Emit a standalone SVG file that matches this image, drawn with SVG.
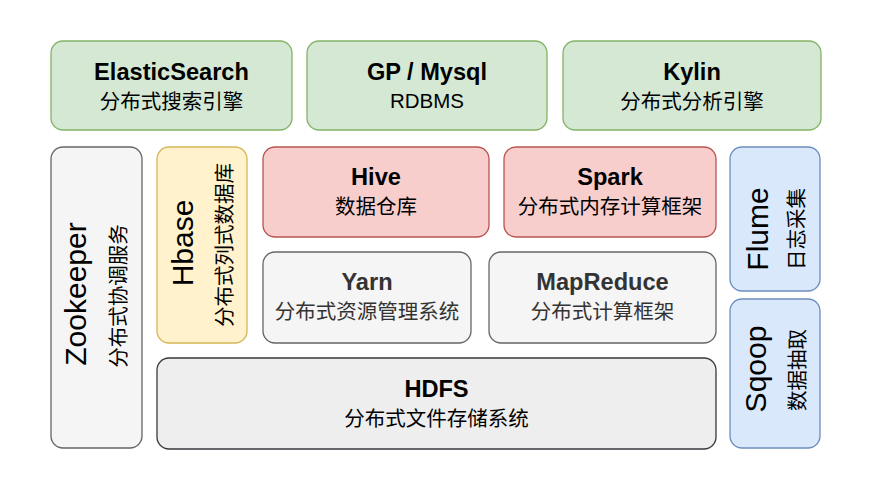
<svg xmlns="http://www.w3.org/2000/svg" width="876" height="484" viewBox="0 0 876 484">
<style>
text{font-family:"Liberation Sans","Noto Sans CJK SC",sans-serif;text-anchor:middle;fill:#000}
.t{font-size:23.6px;font-weight:bold}
.s{font-size:20.5px}
.v{font-size:30px}
.gray text{fill:#333333}
rect{stroke-width:1.3}
.green{fill:#d5e8d4;stroke:#82b366}
.red{fill:#f8cecc;stroke:#b85450}
.yel{fill:#fff2cc;stroke:#d6b656}
.blue{fill:#dae8fc;stroke:#6c8ebf}
.lg{fill:#f5f5f5;stroke:#666666}
.dg{fill:#eeeeee;stroke:#36393d}
</style>
<rect width="876" height="484" fill="#ffffff" stroke="none"/>
<g id="connectors"/>
<g id="elasticsearch">
<rect class="green" x="51" y="41" width="241" height="89" rx="12"/>
<text class="t" x="171.5" y="80">ElasticSearch</text>
<text class="s" x="171.5" y="109">分布式搜索引擎</text>
</g>
<g id="gp-mysql">
<rect class="green" x="307" y="41" width="240" height="89" rx="12"/>
<text class="t" x="427" y="80">GP / Mysql</text>
<text class="s" x="427" y="108">RDBMS</text>
</g>
<g id="kylin">
<rect class="green" x="563" y="41" width="258" height="89" rx="12"/>
<text class="t" x="692" y="80">Kylin</text>
<text class="s" x="692" y="109">分布式分析引擎</text>
</g>
<g id="zookeeper">
<rect class="lg" x="51" y="147" width="91" height="301" rx="12"/>
<text class="v" transform="translate(86,294) rotate(-90)">Zookeeper</text>
<text class="s" transform="translate(126,296) rotate(-90)">分布式协调服务</text>
</g>
<g id="hbase">
<rect class="yel" x="157" y="147" width="90" height="196" rx="12"/>
<text class="v" transform="translate(193,243) rotate(-90)">Hbase</text>
<text class="s" transform="translate(232,245) rotate(-90)">分布式列式数据库</text>
</g>
<g id="hive">
<rect class="red" x="263" y="147" width="226" height="90" rx="12"/>
<text class="t" x="376" y="185">Hive</text>
<text class="s" x="376" y="214">数据仓库</text>
</g>
<g id="spark">
<rect class="red" x="504" y="147" width="212" height="90" rx="12"/>
<text class="t" x="610" y="185">Spark</text>
<text class="s" x="610" y="214">分布式内存计算框架</text>
</g>
<g id="yarn" class="gray">
<rect class="lg" x="263" y="252" width="208" height="91" rx="12"/>
<text class="t" x="367" y="290">Yarn</text>
<text class="s" x="367" y="319">分布式资源管理系统</text>
</g>
<g id="mapreduce" class="gray">
<rect class="lg" x="489" y="252" width="227" height="91" rx="12"/>
<text class="t" x="602.5" y="290">MapReduce</text>
<text class="s" x="602.5" y="319">分布式计算框架</text>
</g>
<g id="hdfs">
<rect class="dg" x="157" y="358" width="559" height="91" rx="12"/>
<text class="t" x="436.5" y="397">HDFS</text>
<text class="s" x="436.5" y="426">分布式文件存储系统</text>
</g>
<g id="flume">
<rect class="blue" x="730" y="147" width="90" height="144" rx="12"/>
<text class="v" transform="translate(768,229) rotate(-90)">Flume</text>
<text class="s" transform="translate(804,229) rotate(-90)">日志采集</text>
</g>
<g id="sqoop">
<rect class="blue" x="730" y="299" width="90" height="149" rx="12"/>
<text class="v" transform="translate(766,369) rotate(-90)">Sqoop</text>
<text class="s" transform="translate(805,370) rotate(-90)">数据抽取</text>
</g>
</svg>
